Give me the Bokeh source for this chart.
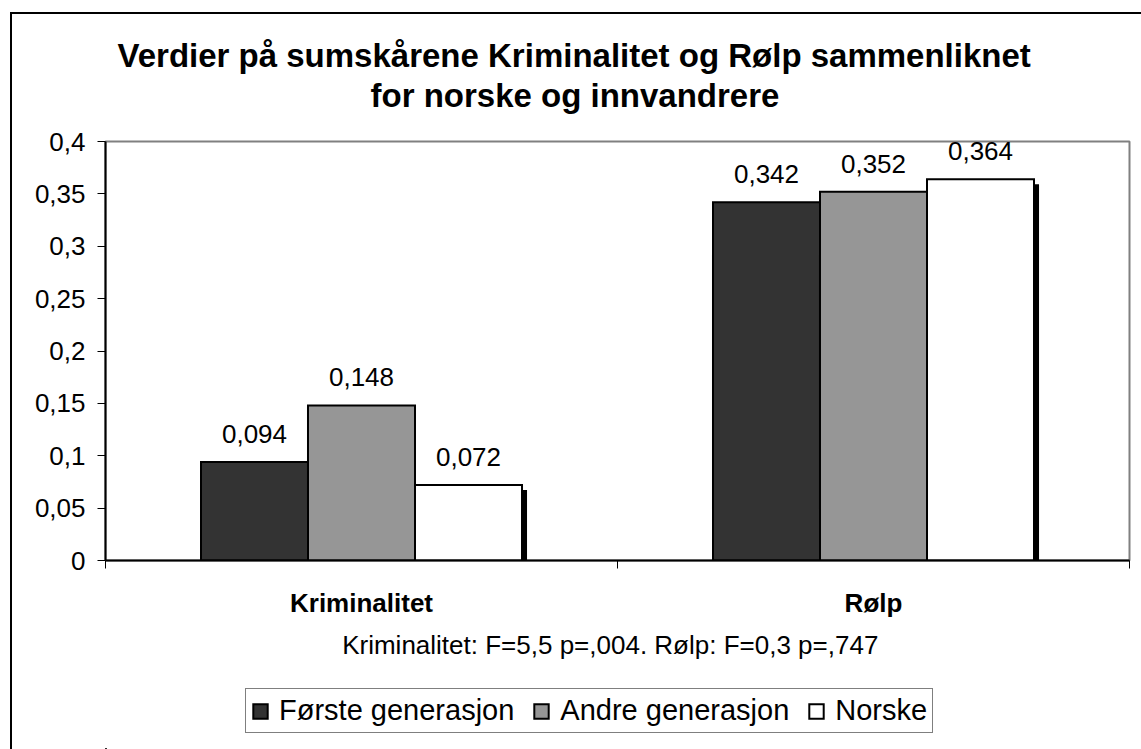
from bokeh.plotting import figure
from bokeh.layouts import column
from bokeh.models import (Range1d, LinearAxis, FixedTicker, CustomJSTickFormatter,
                          ColumnDataSource, Legend, LegendItem, Title, InlineStyleSheet)
from bokeh.transform import dodge
from bokeh.core.properties import value
from bokeh.embed import file_html
from bokeh.resources import INLINE

# ---------------- data ----------------
title_lines = ["Verdier på sumskårene Kriminalitet og Rølp sammenliknet",
               "for norske og innvandrere"]
note_text = "Kriminalitet:  F=5,5 p=,004.  Rølp: F=0,3 p=,747"
categories = ["Kriminalitet", "Rølp"]
series_names = ["Første generasjon", "Andre generasjon", "Norske"]
first_gen = [0.094, 0.342]
second_gen = [0.148, 0.352]
norske = [0.072, 0.364]
y_ticks = [0, 0.05, 0.1, 0.15, 0.2, 0.25, 0.3, 0.35, 0.4]
y_tick_labels = ["0", "0,05", "0,1", "0,15", "0,2", "0,25", "0,3", "0,35", "0,4"]

# ---------------- style ----------------
colors = ["#333333", "#969696", "#FFFFFF"]
FONT = "Liberation Sans"
W = 1141
H_MAIN, H_LEG = 680, 69
BAR_W = 0.209
SHADOW_DX = 0.0098
SHADOW_DY = 0.0048

series = [first_gen, second_gen, norske]
n = len(categories)
slot_centres = [i + 0.5 for i in range(n)]      # centre of each category slot
slot_edges = list(range(n + 1))                  # category boundaries

main_css = InlineStyleSheet(css="""
:host { position: relative; }
:host::after { content: ""; position: absolute; left: 10px; top: 12px; right: 0; bottom: 0;
  border-left: 2px solid #000; border-top: 2px solid #000; pointer-events: none; }
""")
leg_css = InlineStyleSheet(css="""
:host { position: relative; }
:host::after { content: ""; position: absolute; left: 10px; top: 0; right: 0; bottom: 0;
  border-left: 2px solid #000; pointer-events: none; }
""")

p = figure(width=W, height=H_MAIN, x_range=Range1d(0, n), y_range=Range1d(0, 0.4),
           output_backend="svg", toolbar_location=None, x_axis_location=None,
           min_border_left=105, min_border_right=12, min_border_top=141, min_border_bottom=120,
           stylesheets=[main_css])
p.background_fill_color = "white"
p.border_fill_color = "white"
p.outline_line_color = "#808080"
p.outline_line_width = 2
p.grid.grid_line_color = None

# title: a small blank spacer nearest the plot, then line 2, then line 1
p.add_layout(Title(text=" ", text_font=FONT, text_font_size="20px", standoff=3), "above")
title_offsets = [12, 265]
for t, off in reversed(list(zip(title_lines, title_offsets))):
    p.add_layout(Title(text=t, align="left", offset=off, text_font=FONT,
                       text_font_style="bold", text_font_size="33px", text_color="black",
                       standoff=1), "above")

# y axis
p.yaxis.ticker = FixedTicker(ticks=y_ticks)
p.yaxis.formatter = CustomJSTickFormatter(
    args=dict(tvals=y_ticks, tlabels=y_tick_labels),
    code="const i = tvals.findIndex(t => Math.abs(t - tick) < 1e-9); return i >= 0 ? tlabels[i] : '';")
p.yaxis.major_tick_out = 8
p.yaxis.major_tick_in = 0
p.yaxis.major_tick_line_color = "black"
p.yaxis.minor_tick_line_color = None
p.yaxis.axis_line_color = "black"
p.yaxis.axis_line_width = 2
p.yaxis.major_label_text_font = FONT
p.yaxis.major_label_text_font_size = "26px"
p.yaxis.major_label_text_color = "black"
p.yaxis.major_label_standoff = 12

# x axis (labels at category centres, ticks at category boundaries, note as axis label)
xaxis = LinearAxis(
    ticker=FixedTicker(ticks=slot_centres, minor_ticks=slot_edges),
    formatter=CustomJSTickFormatter(args=dict(cats=categories),
                                    code="return cats[Math.floor(tick)] || '';"))
xaxis.major_tick_line_color = None
xaxis.major_tick_out = 0
xaxis.major_tick_in = 0
xaxis.minor_tick_out = 8
xaxis.minor_tick_in = 0
xaxis.minor_tick_line_color = "black"
xaxis.minor_tick_line_width = 1
xaxis.axis_line_color = "black"
xaxis.axis_line_width = 2
xaxis.major_label_text_font = FONT
xaxis.major_label_text_font_style = "bold"
xaxis.major_label_text_font_size = "26px"
xaxis.major_label_text_color = "black"
xaxis.major_label_standoff = 19
xaxis.axis_label = note_text
xaxis.axis_label_text_font = FONT
xaxis.axis_label_text_font_style = "normal"
xaxis.axis_label_text_font_size = "26px"
xaxis.axis_label_text_color = "black"
xaxis.axis_label_standoff = 9
p.add_layout(xaxis, "below")

# bars
data = dict(cat=categories, xc=slot_centres)
for k, vals in enumerate(series):
    data[f"v{k}"] = vals
    data[f"sh{k}"] = [v - SHADOW_DY for v in vals]
    data[f"lbl{k}"] = [f"{v:.3f}".replace(".", ",") for v in vals]
src = ColumnDataSource(data)

offsets = [-BAR_W, 0.0, BAR_W]
last = len(series) - 1
# drop shadow behind the right-most bar of each group
p.vbar(x=dodge("xc", offsets[last] + SHADOW_DX), top=f"sh{last}", bottom=0,
       width=BAR_W, source=src, fill_color="black", line_color=None)
for k in range(len(series)):
    p.vbar(x=dodge("xc", offsets[k]), top=f"v{k}", bottom=0,
           width=BAR_W, source=src, fill_color=colors[k], line_color="black",
           line_width=2, line_join="miter")
    p.text(x=dodge("xc", offsets[k]), y=f"v{k}", text=f"lbl{k}", source=src,
           text_align="center", text_baseline="alphabetic", y_offset=-28,
           text_font=value(FONT), text_font_size="26px", text_color="black")

# legend strip below the chart (its own canvas so the legend is not clipped)
lf = figure(width=W, height=H_LEG, x_range=Range1d(100, 101), y_range=Range1d(100, 101),
            output_backend="svg", toolbar_location=None, x_axis_location=None,
            y_axis_location=None, min_border=0, min_border_left=0, min_border_right=0,
            min_border_top=0, min_border_bottom=0, stylesheets=[leg_css])
lf.outline_line_color = None
lf.background_fill_color = "white"
lf.border_fill_color = "white"
lf.grid.grid_line_color = None
legend_items = []
for k in range(len(series)):
    r = lf.vbar(x=dodge("xc", offsets[k]), top=f"v{k}", bottom=0, width=BAR_W, source=src,
                fill_color=colors[k], line_color="black", line_width=2, line_join="miter")
    legend_items.append(LegendItem(label=series_names[k], renderers=[r]))
legend = Legend(items=legend_items, location=(140, 16), orientation="horizontal",
                border_line_color="black", border_line_width=1,
                background_fill_color="white", background_fill_alpha=1.0,
                label_text_font=FONT, label_text_font_size="29px", label_text_color="black",
                glyph_width=18, glyph_height=18, label_standoff=10, spacing=18,
                padding=5, margin=0)
lf.add_layout(legend, "center")

layout = column(p, lf, spacing=0)
open("out.html", "w").write(file_html(layout, INLINE))
